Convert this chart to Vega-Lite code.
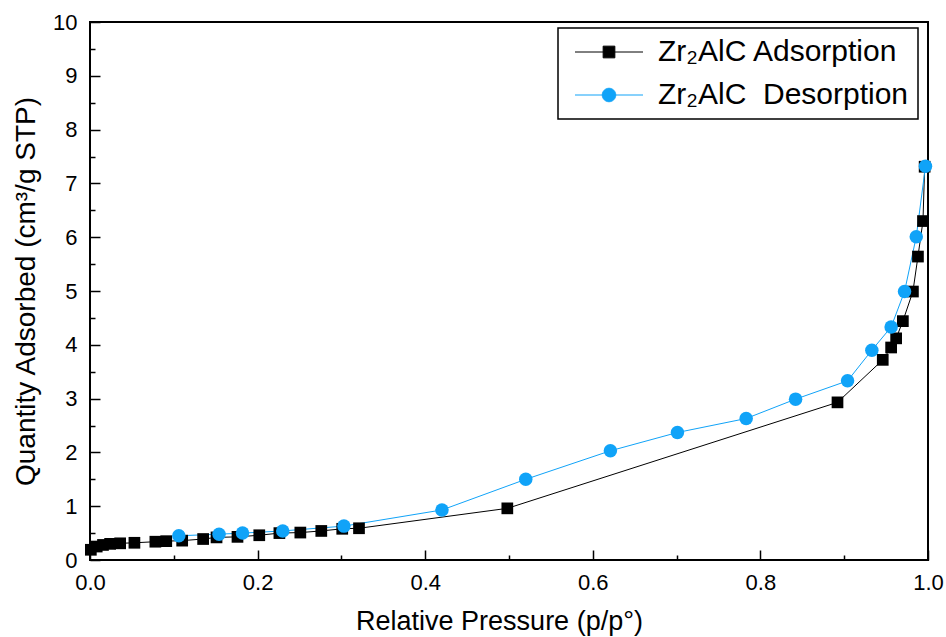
{
  "$schema": "https://vega.github.io/schema/vega-lite/v6.json",
  "width": 838,
  "height": 538,
  "autosize": {"type": "none"},
  "padding": {"left": 90, "top": 22, "right": 18, "bottom": 77},
  "background": "white",
  "config": {
    "view": {"stroke": "black", "strokeWidth": 2},
    "axis": {
      "grid": false,
      "domain": false,
      "tickColor": "black",
      "tickWidth": 1.5,
      "labelFlush": false,
      "labelFont": "Liberation Sans",
      "labelFontSize": 22,
      "labelColor": "black",
      "titleFont": "Liberation Sans",
      "titleFontWeight": "normal",
      "titleColor": "black"
    }
  },
  "data": {
    "values": [
      {"series": "Zr₂AlC Adsorption", "p": 0.001, "q": 0.19},
      {"series": "Zr₂AlC Adsorption", "p": 0.008, "q": 0.25},
      {"series": "Zr₂AlC Adsorption", "p": 0.0155, "q": 0.28},
      {"series": "Zr₂AlC Adsorption", "p": 0.024, "q": 0.30},
      {"series": "Zr₂AlC Adsorption", "p": 0.036, "q": 0.31},
      {"series": "Zr₂AlC Adsorption", "p": 0.053, "q": 0.32},
      {"series": "Zr₂AlC Adsorption", "p": 0.078, "q": 0.34},
      {"series": "Zr₂AlC Adsorption", "p": 0.091, "q": 0.35},
      {"series": "Zr₂AlC Adsorption", "p": 0.110, "q": 0.36},
      {"series": "Zr₂AlC Adsorption", "p": 0.135, "q": 0.39},
      {"series": "Zr₂AlC Adsorption", "p": 0.151, "q": 0.42},
      {"series": "Zr₂AlC Adsorption", "p": 0.176, "q": 0.43},
      {"series": "Zr₂AlC Adsorption", "p": 0.202, "q": 0.46},
      {"series": "Zr₂AlC Adsorption", "p": 0.226, "q": 0.50},
      {"series": "Zr₂AlC Adsorption", "p": 0.251, "q": 0.51},
      {"series": "Zr₂AlC Adsorption", "p": 0.276, "q": 0.54},
      {"series": "Zr₂AlC Adsorption", "p": 0.301, "q": 0.58},
      {"series": "Zr₂AlC Adsorption", "p": 0.321, "q": 0.59},
      {"series": "Zr₂AlC Adsorption", "p": 0.498, "q": 0.96},
      {"series": "Zr₂AlC Adsorption", "p": 0.892, "q": 2.93},
      {"series": "Zr₂AlC Adsorption", "p": 0.946, "q": 3.72},
      {"series": "Zr₂AlC Adsorption", "p": 0.956, "q": 3.95},
      {"series": "Zr₂AlC Adsorption", "p": 0.962, "q": 4.12},
      {"series": "Zr₂AlC Adsorption", "p": 0.970, "q": 4.44},
      {"series": "Zr₂AlC Adsorption", "p": 0.982, "q": 4.99},
      {"series": "Zr₂AlC Adsorption", "p": 0.988, "q": 5.64},
      {"series": "Zr₂AlC Adsorption", "p": 0.994, "q": 6.30},
      {"series": "Zr₂AlC Adsorption", "p": 0.996, "q": 7.31},
      {"series": "Zr₂AlC\u00a0 Desorption", "p": 0.106, "q": 0.45},
      {"series": "Zr₂AlC\u00a0 Desorption", "p": 0.154, "q": 0.48},
      {"series": "Zr₂AlC\u00a0 Desorption", "p": 0.182, "q": 0.50},
      {"series": "Zr₂AlC\u00a0 Desorption", "p": 0.230, "q": 0.54},
      {"series": "Zr₂AlC\u00a0 Desorption", "p": 0.303, "q": 0.63},
      {"series": "Zr₂AlC\u00a0 Desorption", "p": 0.420, "q": 0.93},
      {"series": "Zr₂AlC\u00a0 Desorption", "p": 0.520, "q": 1.50},
      {"series": "Zr₂AlC\u00a0 Desorption", "p": 0.621, "q": 2.03},
      {"series": "Zr₂AlC\u00a0 Desorption", "p": 0.701, "q": 2.37},
      {"series": "Zr₂AlC\u00a0 Desorption", "p": 0.783, "q": 2.63},
      {"series": "Zr₂AlC\u00a0 Desorption", "p": 0.842, "q": 2.99},
      {"series": "Zr₂AlC\u00a0 Desorption", "p": 0.904, "q": 3.33},
      {"series": "Zr₂AlC\u00a0 Desorption", "p": 0.933, "q": 3.90},
      {"series": "Zr₂AlC\u00a0 Desorption", "p": 0.956, "q": 4.33},
      {"series": "Zr₂AlC\u00a0 Desorption", "p": 0.972, "q": 4.99},
      {"series": "Zr₂AlC\u00a0 Desorption", "p": 0.986, "q": 6.01},
      {"series": "Zr₂AlC\u00a0 Desorption", "p": 0.997, "q": 7.32}
    ]
  },
  "encoding": {
    "x": {
      "field": "p",
      "type": "quantitative",
      "scale": {"domain": [0, 1], "nice": false, "zero": false},
      "axis": {
        "title": "Relative Pressure (p/p°)",
        "titleFontSize": 27,
        "titlePadding": 15,
        "titleX": 409,
        "values": [0, 0.1, 0.2, 0.3, 0.4, 0.5, 0.6, 0.7, 0.8, 0.9, 1.0],
        "labelExpr": "round(datum.value * 10) % 2 === 0 ? format(datum.value, '.1f') : ''",
        "tickSize": {"condition": {"test": "round(datum.value * 10) % 2 === 0", "value": -10}, "value": -5},
        "labelPadding": 22
      }
    },
    "y": {
      "field": "q",
      "type": "quantitative",
      "scale": {"domain": [0, 10], "nice": false, "zero": true},
      "axis": {
        "title": "Quantity Adsorbed (cm³/g STP)",
        "titleFontSize": 28,
        "titlePadding": 12,
        "values": [0, 0.5, 1, 1.5, 2, 2.5, 3, 3.5, 4, 4.5, 5, 5.5, 6, 6.5, 7, 7.5, 8, 8.5, 9, 9.5, 10],
        "labelExpr": "datum.value % 1 === 0 ? format(datum.value, 'd') : ''",
        "tickSize": {"condition": {"test": "datum.value % 1 === 0", "value": -10}, "value": -5},
        "labelPadding": 23
      }
    },
    "color": {
      "field": "series",
      "type": "nominal",
      "scale": {"domain": ["Zr₂AlC Adsorption", "Zr₂AlC\u00a0 Desorption"], "range": ["#000000", "#10A3F8"]},
      "legend": {
        "title": null,
        "orient": "none",
        "legendX": 468,
        "legendY": 6,
        "padding": 9,
        "strokeColor": "black",
        "fillColor": "white",
        "symbolSize": 400,
        "labelOffset": 61,
        "rowPadding": 13,
        "labelFont": "Liberation Sans",
        "labelFontSize": 30,
        "labelColor": "black",
        "labelLimit": 400,
        "encode": {
          "legend": {
            "update": {"strokeWidth": {"value": 1.5}}
          },
          "symbols": {
            "update": {
              "shape": {"signal": "datum.value === 'Zr₂AlC Adsorption' ? 'M-0.7,0H6.1M2.115,-0.585H3.285V0.585H2.115Z' : 'M-0.7,0H6.1M3.375,0A0.675,0.675 0 1,1 2.025,0A0.675,0.675 0 1,1 3.375,0Z'"},
              "stroke": {"signal": "datum.value === 'Zr₂AlC Adsorption' ? '#000000' : '#10A3F8'"},
              "strokeWidth": {"value": 1}
            }
          }
        }
      }
    }
  },
  "layer": [
    {
      "mark": {"type": "line", "strokeWidth": 1}
    },
    {
      "transform": [{"filter": {"field": "series", "equal": "Zr₂AlC Adsorption"}}],
      "mark": {"type": "point", "filled": true, "opacity": 1, "shape": "square", "size": 137}
    },
    {
      "transform": [{"filter": {"field": "series", "equal": "Zr₂AlC\u00a0 Desorption"}}],
      "mark": {"type": "point", "filled": true, "opacity": 1, "shape": "circle", "size": 182}
    },
    {
      "data": {"values": [{"tag": "(a)"}]},
      "mark": {"type": "text", "font": "Liberation Sans", "fontSize": 27, "align": "center", "baseline": "middle"},
      "encoding": {
        "x": {"datum": 0.067, "type": "quantitative"},
        "y": {"datum": 9.53, "type": "quantitative"},
        "text": {"field": "tag", "type": "nominal"},
        "color": {"value": "black"}
      }
    }
  ]
}
